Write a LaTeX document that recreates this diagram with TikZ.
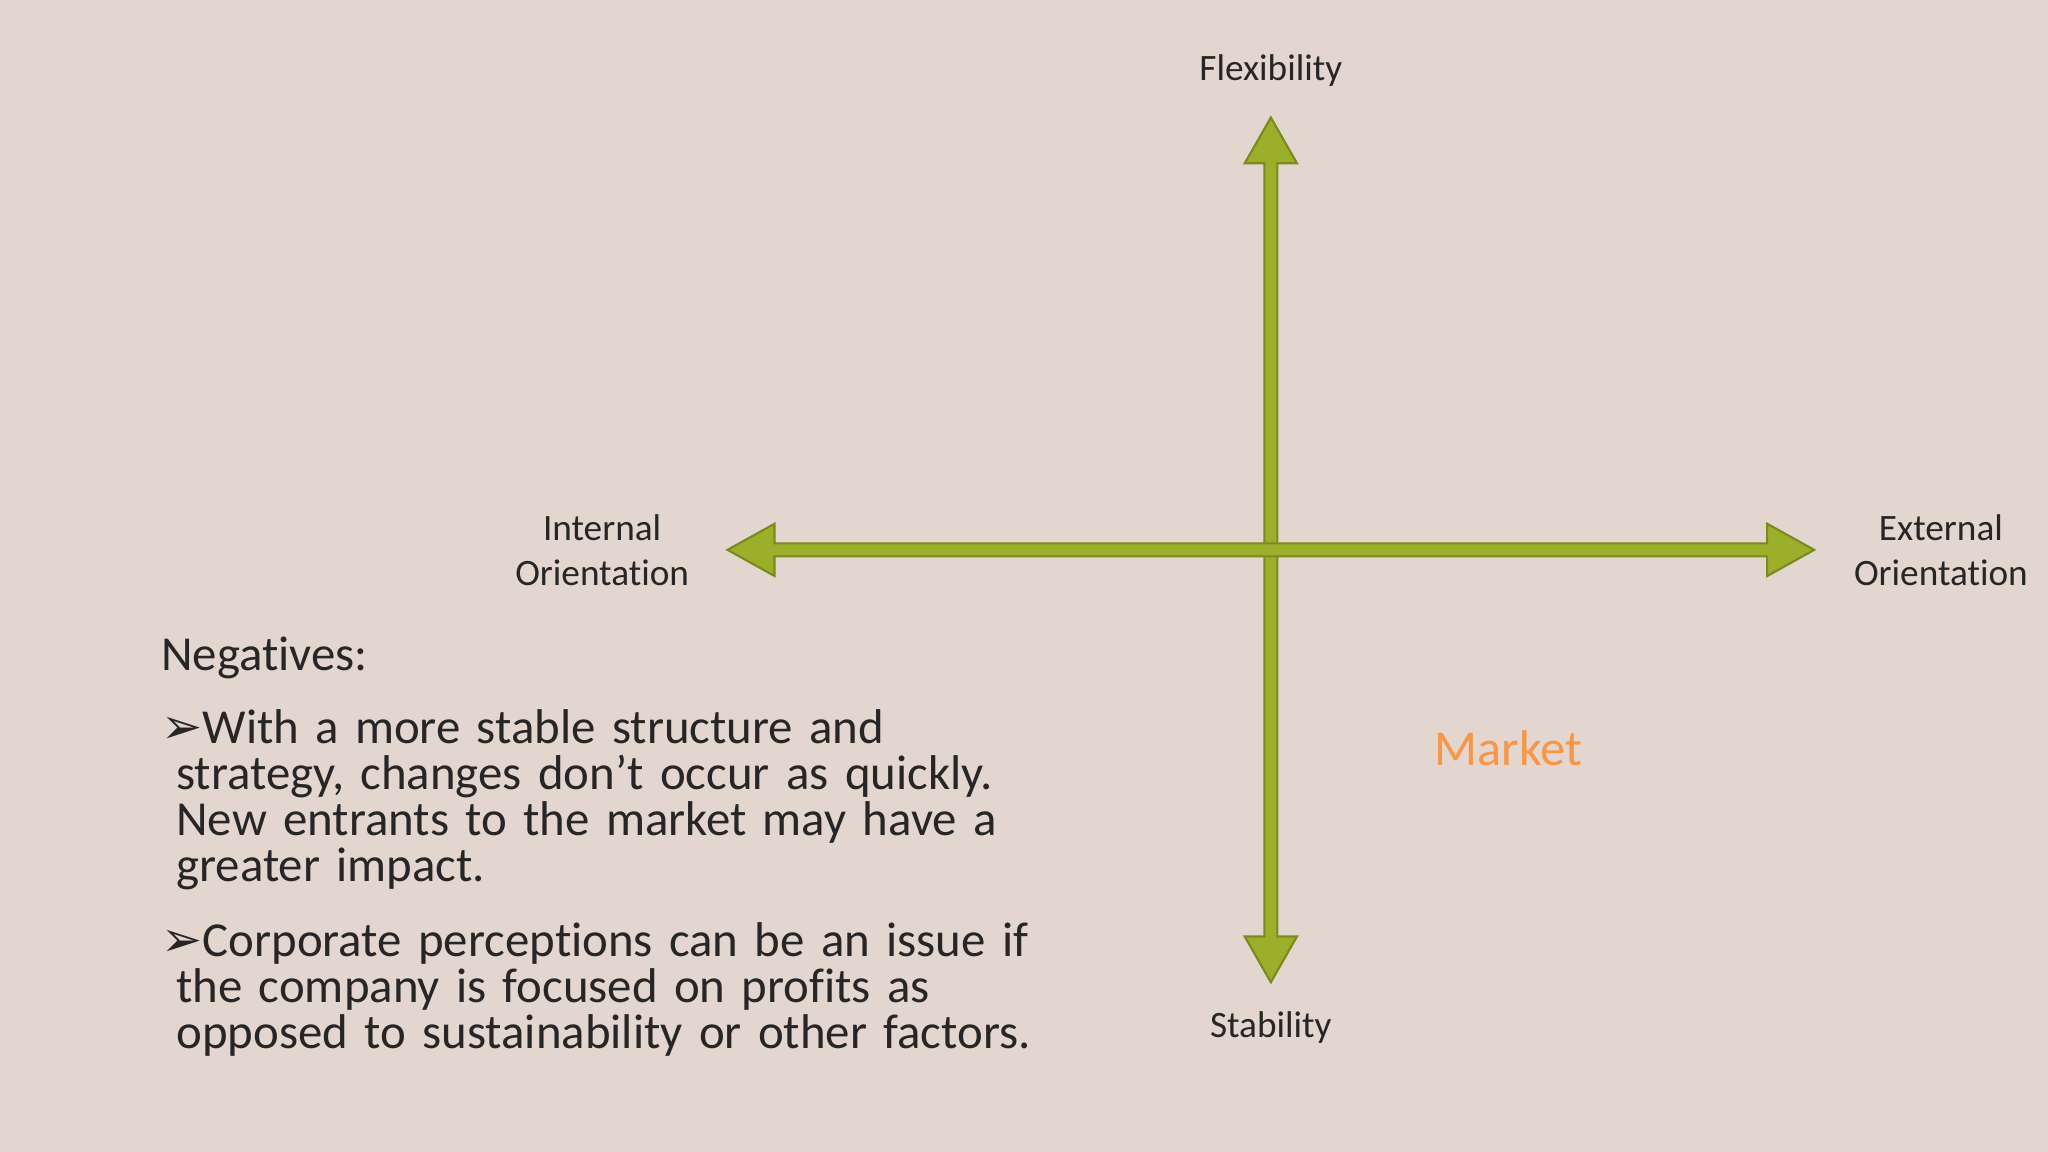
\documentclass[tikz,border=0pt]{standalone}
\usepackage{fontspec}
\setmainfont[RawFeature={-liga;-clig;-dlig}]{Carlito}
\newfontfamily\symf{DejaVu Sans}
\definecolor{bg}{HTML}{E3D6CF}
\definecolor{olive}{HTML}{9BAF2B}
\definecolor{oliveline}{HTML}{7A8A1E}
\definecolor{mkt}{HTML}{F79646}
\definecolor{txt}{HTML}{262626}
\tikzset{
  arr/.style={fill=olive,draw=oliveline,line width=0.6pt,line join=miter},
  lbl/.style={text=txt,font=\fontsize{10.6}{12.8}\selectfont,align=center,inner sep=0},
  body/.style={text=txt,font=\fontsize{13.9}{13.1}\selectfont,align=left,inner sep=0,anchor=north west,text width=8.6cm}
}
\begin{document}
\begin{tikzpicture}[x=0.01306cm,y=-0.01306cm]
\fill[bg] (0,0) rectangle (1568,882);
\useasboundingbox (0,0) rectangle (1568,882);
% vertical double arrow
\draw[arr] (973,90) -- (993,125) -- (978,125) -- (978,717) -- (993,717) -- (973,752) -- (953,717) -- (968,717) -- (968,125) -- (953,125) -- cycle;
% horizontal double arrow
\draw[arr] (557,421) -- (593,401) -- (593,416) -- (1353,416) -- (1353,401) -- (1389,421) -- (1353,441) -- (1353,426) -- (593,426) -- (593,441) -- cycle;
\node[lbl] (flex) at (973,54) {Flexibility};
\node[lbl] (stab) at (973,787) {Stability};
\node[lbl] (int) at (461,421) {Internal\\Orientation};
\node[lbl] (ext) at (1486,421) {External\\Orientation};
\node[text=mkt,font=\fontsize{14.3}{16}\selectfont,inner sep=0] (mk) at (1155,573) {Market};
\node[body] (neg) at (123,487) {Negatives:};
\node[body,text width=10cm] (b1) at (123,543) {{\symf\fontsize{14}{13}\selectfont ➢}With a more stable structure and\\\hspace*{0.15cm}strategy, changes don’t occur as quickly.\\\hspace*{0.15cm}New entrants to the market may have a\\\hspace*{0.15cm}greater impact.};
\node[body,text width=10cm] (b2) at (123,706) {{\symf\fontsize{14}{13}\selectfont ➢}Corporate perceptions can be an issue if\\\hspace*{0.15cm}the company is focused on profits as\\\hspace*{0.15cm}opposed to sustainability or other factors.};
\end{tikzpicture}
\end{document}
